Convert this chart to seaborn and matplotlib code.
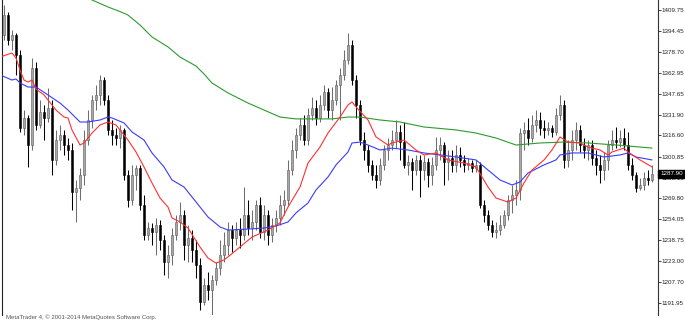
import matplotlib
matplotlib.use("Agg")
import matplotlib.pyplot as plt
import seaborn as sns
import pandas as pd
import numpy as np

# ---------------- data ----------------
opens = [1391.2, 1406.1, 1387.5, 1391.2, 1376.3, 1322.1, 1329.5, 1309.4, 1366.7, 1324.3,
         1333.9, 1329.5, 1336.9, 1298.3, 1313.1, 1316.8, 1309.4, 1305.7, 1274.5, 1277.5,
         1287.1, 1313.1, 1328.0, 1342.9, 1346.6, 1357.7, 1342.9, 1320.6, 1316.8, 1314.6,
         1320.6, 1287.1, 1268.5, 1287.1, 1292.3, 1264.8, 1242.5, 1247.7, 1244.7, 1250.0,
         1238.8, 1222.4, 1227.7, 1242.5, 1252.2, 1257.4, 1235.1, 1240.3, 1231.4, 1220.2,
         1192.7, 1205.4, 1201.6, 1209.1, 1218.0, 1227.7, 1235.1, 1246.2, 1240.3, 1246.2,
         1242.5, 1257.4, 1247.7, 1252.2, 1264.8, 1244.7, 1257.4, 1242.5, 1250.0, 1255.2,
         1264.8, 1268.5, 1290.8, 1305.7, 1316.8, 1324.3, 1313.1, 1331.7, 1336.9, 1329.5,
         1339.2, 1348.8, 1335.4, 1342.9, 1354.0, 1361.5, 1372.6, 1383.8, 1357.7, 1339.2,
         1313.1, 1305.7, 1294.6, 1287.1, 1283.4, 1294.6, 1305.7, 1309.4, 1313.1, 1319.1,
         1311.6, 1294.6, 1296.8, 1290.8, 1298.3, 1290.8, 1296.8, 1287.1, 1294.6, 1305.7,
         1309.4, 1296.8, 1299.8, 1294.6, 1302.0, 1298.3, 1294.6, 1296.0, 1292.3, 1294.6,
         1264.8, 1257.4, 1250.0, 1244.7, 1246.2, 1250.0, 1257.4, 1268.5, 1272.2, 1276.0,
         1318.3, 1320.6, 1314.6, 1324.3, 1328.0, 1322.1, 1320.6, 1322.1, 1319.1, 1331.7,
         1339.2, 1298.3, 1305.7, 1313.1, 1320.6, 1309.4, 1305.7, 1309.4, 1299.8, 1294.6,
         1290.8, 1298.3, 1309.4, 1313.1, 1311.6, 1314.6, 1309.4, 1294.6, 1287.1, 1277.5,
         1279.7, 1284.9, 1283.4]
closes = [1406.1, 1387.5, 1391.2, 1376.3, 1322.1, 1329.5, 1309.4, 1366.7, 1324.3, 1333.9,
          1329.5, 1336.9, 1298.3, 1313.1, 1316.8, 1309.4, 1305.7, 1274.5, 1277.5, 1287.1,
          1313.1, 1328.0, 1342.9, 1346.6, 1357.7, 1342.9, 1320.6, 1316.8, 1314.6, 1320.6,
          1287.1, 1268.5, 1287.1, 1292.3, 1264.8, 1242.5, 1247.7, 1244.7, 1250.0, 1238.8,
          1222.4, 1227.7, 1242.5, 1252.2, 1257.4, 1235.1, 1240.3, 1231.4, 1220.2, 1192.7,
          1205.4, 1201.6, 1209.1, 1218.0, 1227.7, 1235.1, 1246.2, 1240.3, 1246.2, 1242.5,
          1257.4, 1247.7, 1252.2, 1264.8, 1244.7, 1257.4, 1242.5, 1250.0, 1255.2, 1264.8,
          1268.5, 1290.8, 1305.7, 1316.8, 1324.3, 1313.1, 1331.7, 1336.9, 1329.5, 1339.2,
          1348.8, 1335.4, 1342.9, 1354.0, 1361.5, 1372.6, 1383.8, 1357.7, 1339.2, 1313.1,
          1305.7, 1294.6, 1287.1, 1283.4, 1294.6, 1305.7, 1309.4, 1313.1, 1319.1, 1311.6,
          1294.6, 1296.8, 1290.8, 1298.3, 1290.8, 1296.8, 1287.1, 1294.6, 1305.7, 1309.4,
          1296.8, 1299.8, 1294.6, 1302.0, 1298.3, 1294.6, 1296.0, 1292.3, 1294.6, 1264.8,
          1257.4, 1250.0, 1244.7, 1246.2, 1250.0, 1257.4, 1268.5, 1272.2, 1276.0, 1318.3,
          1320.6, 1314.6, 1324.3, 1328.0, 1322.1, 1320.6, 1322.1, 1319.1, 1331.7, 1339.2,
          1298.3, 1305.7, 1313.1, 1320.6, 1309.4, 1305.7, 1309.4, 1299.8, 1294.6, 1290.8,
          1298.3, 1309.4, 1313.1, 1311.6, 1314.6, 1309.4, 1294.6, 1287.1, 1277.5, 1279.7,
          1284.9, 1283.4, 1287.9]
highs = [1413.5, 1408.3, 1394.9, 1392.7, 1380.0, 1335.4, 1331.7, 1374.1, 1371.1, 1342.9,
         1339.2, 1351.8, 1342.9, 1320.6, 1324.3, 1320.6, 1314.6, 1310.9, 1283.4, 1292.3,
         1320.6, 1335.4, 1346.6, 1354.0, 1361.5, 1360.0, 1346.6, 1328.0, 1322.1, 1324.3,
         1322.1, 1290.8, 1294.6, 1294.6, 1294.6, 1272.2, 1252.2, 1251.5, 1255.2, 1253.7,
         1242.5, 1235.1, 1247.7, 1257.4, 1267.0, 1261.1, 1250.0, 1246.2, 1238.8, 1225.4,
         1210.6, 1215.0, 1212.8, 1222.4, 1238.8, 1244.7, 1252.2, 1250.0, 1252.2, 1255.2,
         1278.2, 1268.5, 1261.1, 1268.5, 1270.8, 1264.8, 1261.1, 1255.2, 1261.1, 1272.2,
         1276.0, 1298.3, 1313.1, 1322.1, 1329.5, 1331.7, 1336.9, 1345.1, 1342.9, 1346.6,
         1354.0, 1351.8, 1352.5, 1357.7, 1366.7, 1380.0, 1392.7, 1387.5, 1361.5, 1342.9,
         1319.1, 1309.4, 1298.3, 1294.6, 1299.8, 1309.4, 1314.6, 1320.6, 1328.0, 1324.3,
         1326.5, 1302.0, 1299.8, 1302.0, 1302.0, 1302.0, 1299.8, 1300.5, 1315.4, 1315.4,
         1311.6, 1305.7, 1305.7, 1309.4, 1307.9, 1302.0, 1299.8, 1298.3, 1298.3, 1296.8,
         1268.5, 1261.1, 1253.7, 1252.2, 1257.4, 1261.1, 1272.2, 1279.7, 1283.4, 1322.1,
         1326.5, 1329.5, 1331.7, 1335.4, 1333.9, 1328.0, 1326.5, 1324.3, 1336.9, 1346.6,
         1342.9, 1313.1, 1320.6, 1326.5, 1324.3, 1314.6, 1313.1, 1313.1, 1305.7, 1302.0,
         1304.2, 1313.1, 1320.6, 1322.8, 1320.6, 1322.1, 1319.1, 1299.8, 1289.3, 1284.9,
         1289.3, 1290.8, 1294.6]
lows = [1387.5, 1383.8, 1380.0, 1361.5, 1319.1, 1316.8, 1293.1, 1305.7, 1320.6, 1322.1,
        1313.1, 1326.5, 1287.1, 1294.6, 1305.7, 1302.0, 1298.3, 1261.1, 1252.2, 1268.5,
        1279.7, 1309.4, 1322.1, 1335.4, 1339.2, 1339.2, 1316.8, 1309.4, 1309.4, 1307.1,
        1283.4, 1263.3, 1264.8, 1276.0, 1261.1, 1238.8, 1238.8, 1235.1, 1227.7, 1231.4,
        1212.8, 1210.6, 1220.2, 1238.8, 1246.2, 1223.9, 1222.4, 1222.4, 1210.6, 1186.8,
        1190.5, 1194.2, 1181.6, 1205.4, 1212.8, 1222.4, 1227.7, 1230.0, 1235.1, 1232.9,
        1238.8, 1242.5, 1238.8, 1246.2, 1240.3, 1238.8, 1235.1, 1237.3, 1244.7, 1250.0,
        1257.4, 1264.8, 1287.1, 1299.8, 1313.1, 1309.4, 1309.4, 1328.0, 1324.3, 1326.5,
        1335.4, 1329.5, 1328.0, 1339.2, 1328.0, 1357.7, 1369.6, 1354.0, 1329.5, 1309.4,
        1298.3, 1289.3, 1283.4, 1277.5, 1279.7, 1290.8, 1298.3, 1305.7, 1307.1, 1298.3,
        1292.3, 1287.1, 1276.0, 1287.1, 1270.8, 1283.4, 1278.2, 1279.7, 1290.8, 1298.3,
        1279.7, 1283.4, 1289.3, 1289.3, 1293.1, 1289.3, 1290.8, 1289.3, 1289.3, 1262.6,
        1252.2, 1246.2, 1241.0, 1240.3, 1242.5, 1247.7, 1253.7, 1259.0, 1264.8, 1268.5,
        1305.7, 1309.4, 1311.6, 1319.1, 1316.8, 1314.6, 1316.8, 1315.4, 1316.8, 1328.0,
        1292.3, 1293.1, 1298.3, 1305.7, 1304.2, 1299.8, 1298.3, 1294.6, 1287.1, 1281.2,
        1283.4, 1290.8, 1305.7, 1307.1, 1307.9, 1305.7, 1290.8, 1283.4, 1274.5, 1276.0,
        1276.0, 1279.7, 1281.9]

red_idx = [-1, 2, 3, 4, 5, 6, 7, 8, 10, 11, 13, 15, 16, 17, 19, 20, 22, 24, 26, 28,
           29, 31, 33, 35, 37, 39, 41, 42, 44, 46, 49, 51, 53, 55, 56, 59, 62, 66, 69, 71,
           74, 76, 79, 81, 84, 86, 87, 88, 91, 93, 96, 97, 100, 103, 105, 108, 111, 115, 118, 121,
           123, 126, 128, 130, 132, 135, 137, 139, 141, 144, 146, 149, 151, 152, 155, 156, 159, 162]
red_ma = [1374.8, 1377.8, 1374.1, 1365.2, 1357.7, 1356.2, 1357.7, 1351.0, 1346.6, 1342.9,
          1335.4, 1330.2, 1329.5, 1320.6, 1309.4, 1310.9, 1318.3, 1324.3, 1326.5, 1324.3,
          1320.6, 1313.1, 1304.2, 1293.1, 1281.2, 1270.0, 1263.3, 1255.2, 1252.2, 1247.7,
          1233.6, 1225.4, 1221.6, 1224.0, 1226.2, 1233.6, 1241.0, 1246.2, 1251.5, 1263.3,
          1278.2, 1296.0, 1307.9, 1318.3, 1330.2, 1339.2, 1341.4, 1337.7, 1328.0, 1315.4,
          1309.4, 1310.9, 1313.1, 1305.7, 1302.0, 1303.5, 1298.3, 1296.0, 1293.1, 1278.2,
          1270.0, 1267.0, 1270.0, 1281.2, 1290.8, 1298.3, 1305.7, 1315.4, 1311.6, 1310.9,
          1307.9, 1305.7, 1302.0, 1304.2, 1307.1, 1304.2, 1298.3, 1293.1]

blue_idx = [-1, 2, 3, 4, 6, 8, 11, 14, 16, 19, 21, 24, 26, 27, 30, 32, 35, 37, 40, 42,
            45, 47, 51, 54, 56, 61, 65, 68, 71, 73, 76, 78, 81, 83, 86, 87, 89, 91, 94, 97,
            101, 105, 109, 113, 118, 121, 124, 127, 129, 131, 135, 138, 139, 142, 146, 150, 154, 156, 158, 162]
blue_ma = [1361.5, 1357.7, 1358.5, 1355.5, 1352.5, 1352.5, 1346.6, 1340.6, 1335.4, 1326.5,
           1326.5, 1328.0, 1330.2, 1329.5, 1325.8, 1319.1, 1313.1, 1303.5, 1293.1, 1283.4,
           1278.2, 1270.8, 1255.9, 1248.5, 1246.2, 1246.9, 1247.7, 1249.2, 1252.2, 1258.9,
           1266.3, 1276.0, 1285.6, 1294.6, 1304.2, 1310.9, 1311.6, 1309.4, 1305.7, 1307.1,
           1305.7, 1303.5, 1302.0, 1300.5, 1298.3, 1290.8, 1283.4, 1279.7, 1281.9, 1288.6,
           1294.6, 1298.3, 1302.0, 1303.5, 1303.5, 1300.5, 1302.0, 1303.5, 1300.5, 1298.3]

green_idx = [16, 22, 26, 29, 31, 34, 37, 41, 44, 48, 50, 52, 56, 61, 65, 69, 73, 78, 82, 86,
             89, 94, 99, 105, 113, 118, 123, 128, 134, 140, 146, 153, 159, 162]
green_ma = [1426.1, 1417.2, 1412.0, 1408.6, 1406.0, 1398.6, 1389.7, 1382.3, 1374.8, 1368.1,
            1362.2, 1355.5, 1348.1, 1340.6, 1335.4, 1330.2, 1328.8, 1328.8, 1328.8, 1330.2,
            1330.2, 1328.0, 1326.5, 1322.8, 1320.6, 1318.3, 1314.6, 1309.4, 1310.9, 1311.6,
            1310.9, 1309.4, 1307.9, 1307.1]

tick_values = [1409.75, 1394.45, 1378.70, 1362.95, 1347.65, 1331.90, 1316.60, 1300.85,
               1285.10, 1269.80, 1254.05, 1238.75, 1223.00, 1207.70, 1191.95]
tick_labels = ["1409.75", "1394.45", "1378.70", "1362.95", "1347.65", "1331.90", "1316.60",
               "1300.85", "1285.10", "1269.80", "1254.05", "1238.75", "1223.00", "1207.70",
               "1191.95"]
last_price = 1287.90
last_label = "1287.90"
footer = "MetaTrader 4, \u00a9 2001-2014 MetaQuotes Software Corp."

# ---------------- figure ----------------
sns.set_style("white")
plt.rcParams['font.family'] = ['Liberation Sans', 'DejaVu Sans']

fig = plt.figure(figsize=(6.85, 3.2), dpi=100)
fig.patch.set_facecolor("white")
ax = fig.add_axes([2 / 685, 5 / 320, 656 / 685, 315 / 320])
ax.set_facecolor("white")

df = pd.DataFrame({"open": opens, "high": highs, "low": lows, "close": closes})
df["idx"] = np.arange(len(df))
bull = df["close"] >= df["open"]

# wicks
ax.vlines(df.loc[bull, "idx"], df.loc[bull, "low"], df.loc[bull, "high"],
          color="#6e6e6e", linewidth=0.75, zorder=2)
ax.vlines(df.loc[~bull, "idx"], df.loc[~bull, "low"], df.loc[~bull, "high"],
          color="black", linewidth=0.75, zorder=2)
# bodies
ax.bar(df.loc[bull, "idx"], (df.loc[bull, "close"] - df.loc[bull, "open"]).clip(lower=0.4),
       bottom=df.loc[bull, "open"], width=0.6, color="#a8a8a8", edgecolor="#5a5a5a",
       linewidth=0.4, zorder=3)
ax.bar(df.loc[~bull, "idx"], (df.loc[~bull, "open"] - df.loc[~bull, "close"]),
       bottom=df.loc[~bull, "close"], width=0.6, color="black", edgecolor="black",
       linewidth=0.4, zorder=3)

# moving averages
sns.lineplot(x=green_idx, y=green_ma, ax=ax, color="#2e9a2e", linewidth=0.8, zorder=4)
sns.lineplot(x=blue_idx, y=blue_ma, ax=ax, color="#3a3aff", linewidth=0.8, zorder=4)
sns.lineplot(x=red_idx, y=red_ma, ax=ax, color="#ff3030", linewidth=0.8, zorder=4)

ax.set_xlim(-0.5, 163.5)
ax.set_ylim(1183.05, 1417.18)

# axes styling
for s in ["top", "bottom"]:
    ax.spines[s].set_visible(False)
ax.spines["left"].set_color("#222222")
ax.spines["left"].set_linewidth(0.8)
ax.spines["right"].set_color("#333333")
ax.spines["right"].set_linewidth(0.8)
ax.set_xticks([])
ax.yaxis.tick_right()
ax.set_yticks(tick_values)
ax.set_yticklabels(tick_labels)
ax.tick_params(axis="y", direction="out", length=2.0, width=0.6, pad=0.8,
               labelsize=4.5, colors="#222222")
ax.set_xlabel("")
ax.set_ylabel("")

# current price box
ax.annotate(last_label, xy=(1.0, last_price), xycoords=("axes fraction", "data"),
            xytext=(1.6, 0), textcoords="offset points", ha="left", va="center",
            fontsize=4.5, color="white", zorder=10, annotation_clip=False,
            bbox=dict(boxstyle="square,pad=0.3", facecolor="black", edgecolor="black"))

fig.text(6 / 685, 0.5 / 320, footer, fontsize=4.3, color="#555555", ha="left", va="bottom")

fig.savefig("out.png", dpi=100, facecolor="white")
